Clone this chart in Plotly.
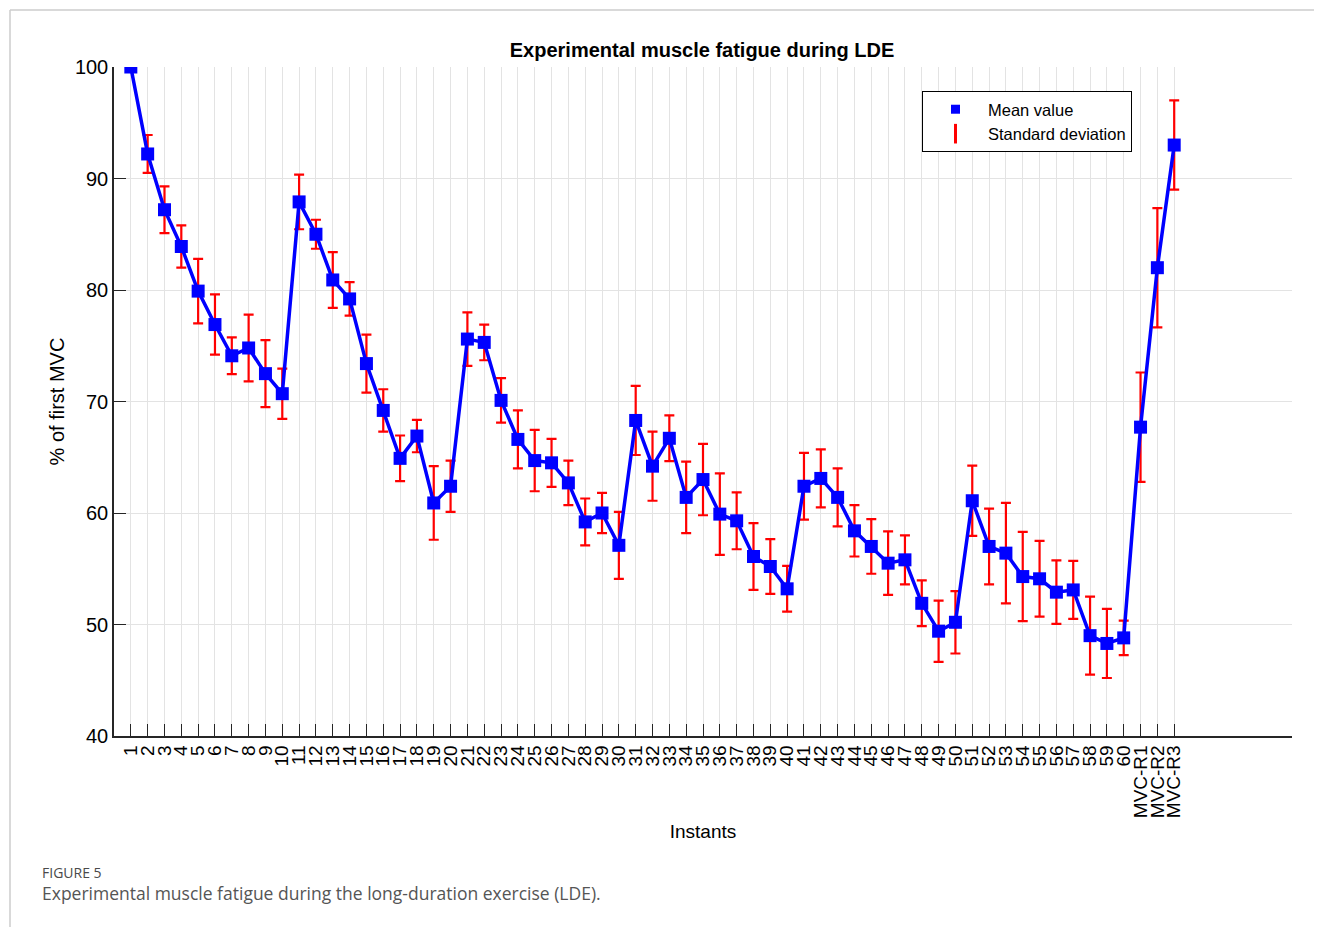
import plotly.graph_objects as go

instants = [str(i) for i in range(1, 61)] + ["MVC-R1", "MVC-R2", "MVC-R3"]

mean_values = [100, 92.2, 87.2, 83.9, 79.9, 76.9, 74.1, 74.8, 72.5, 70.7,
               87.9, 85.0, 80.9, 79.2, 73.4, 69.2, 64.9, 66.9, 60.9, 62.4,
               75.6, 75.3, 70.1, 66.6, 64.7, 64.5, 62.7, 59.2, 60.0, 57.1,
               68.3, 64.2, 66.7, 61.4, 63.0, 59.9, 59.3, 56.1, 55.2, 53.2,
               62.4, 63.1, 61.4, 58.4, 57.0, 55.5, 55.8, 51.9, 49.4, 50.2,
               61.1, 57.0, 56.4, 54.3, 54.1, 52.9, 53.1, 49.0, 48.3, 48.8,
               67.7, 82.0, 93.0]

std_dev = [0.0, 1.7, 2.1, 1.9, 2.9, 2.7, 1.65, 3.0, 3.0, 2.25,
           2.45, 1.3, 2.5, 1.5, 2.6, 1.9, 2.05, 1.45, 3.3, 2.3,
           2.4, 1.6, 2.0, 2.6, 2.75, 2.15, 2.0, 2.1, 1.8, 3.0,
           3.1, 3.1, 2.05, 3.2, 3.2, 3.65, 2.55, 3.0, 2.45, 2.05,
           3.0, 2.6, 2.6, 2.3, 2.45, 2.85, 2.2, 2.05, 2.75, 2.8,
           3.15, 3.4, 4.5, 4.0, 3.4, 2.85, 2.6, 3.5, 3.1, 1.55,
           4.9, 5.35, 4.0]

y_ticks = [40, 50, 60, 70, 80, 90, 100]

FONT = "Liberation Sans, Arial, sans-serif"
INK = "#262626"

fig = go.Figure()

fig.add_trace(go.Scatter(
    x=instants, y=mean_values,
    mode="lines+markers",
    line=dict(color="#0000ff", width=3.5),
    marker=dict(symbol="square", size=13, color="#0000ff"),
    error_y=dict(type="data", array=std_dev, visible=True,
                 color="#ff0000", thickness=2.2, width=5),
    showlegend=False,
))

# legend-only entries
fig.add_trace(go.Scatter(
    x=[None], y=[None], mode="markers", name="Mean value",
    marker=dict(symbol="square", size=9, color="#0000ff"),
))
fig.add_trace(go.Scatter(
    x=[None], y=[None], mode="markers", name="Standard deviation",
    marker=dict(symbol="line-ns-open", size=14, color="#ff0000",
                line=dict(color="#ff0000", width=3)),
))

# page body has an 8px margin; reference pixel coords are shifted by it
OFF = 8
W, H = 1322 - OFF, 927 - OFF
L, R, T, B = 114 - OFF, 1292 - OFF, 67 - OFF, 736 - OFF


def px(xp):
    return (xp - OFF - L) / (R - L)


def py(yp):
    return (B - (yp - OFF)) / (B - T)


fig.update_layout(
    width=W, height=H,
    margin=dict(l=L, r=W - R, t=T, b=H - B, pad=0),
    paper_bgcolor="white", plot_bgcolor="white",
    font=dict(family=FONT, color=INK, size=17),
    title=dict(text="<b>Experimental muscle fatigue during LDE</b>",
               x=px(702), xref="paper", xanchor="center",
               y=1 - (50 - OFF) / H, yanchor="middle",
               font=dict(family=FONT, size=20, color="#000000")),
    legend=dict(x=px(922), y=py(91), xanchor="left", yanchor="top",
                bgcolor="white", bordercolor="#000000", borderwidth=1,
                font=dict(family=FONT, size=16.5, color="#000000"),
                itemwidth=55, tracegroupgap=0),
    xaxis=dict(
        type="category",
        range=[-1, 69],
        tickmode="array", tickvals=instants, ticktext=instants,
        tickangle=-90,
        tickfont=dict(family=FONT, size=19, color="#000000"),
        showgrid=True, gridcolor="#e3e3e3", gridwidth=1,
        showline=True, linecolor=INK, linewidth=1.5,
        ticks="inside", ticklen=12, tickcolor=INK,
        zeroline=False,
        title=dict(text="Instants", font=dict(family=FONT, size=19, color="#000000"),
                   standoff=8),
    ),
    yaxis=dict(
        range=[40, 100],
        tickmode="array", tickvals=y_ticks,
        tickfont=dict(family=FONT, size=20, color="#000000"),
        showgrid=True, gridcolor="#e3e3e3", gridwidth=1,
        showline=True, linecolor=INK, linewidth=1.5,
        ticks="inside", ticklen=12, tickcolor=INK,
        zeroline=False,
        title=dict(text="% of first MVC", font=dict(family=FONT, size=20, color="#000000"),
                   standoff=5),
    ),
)

# page frame lines
fig.add_shape(type="line", xref="paper", yref="paper",
              x0=px(10), x1=px(1322), y0=py(10), y1=py(10),
              line=dict(color="#cccccc", width=1.5))
fig.add_shape(type="line", xref="paper", yref="paper",
              x0=px(10), x1=px(10), y0=py(10), y1=py(927),
              line=dict(color="#cccccc", width=1.5))

# caption
fig.add_annotation(text="FIGURE 5", xref="paper", yref="paper",
                   x=px(40), y=py(872), xanchor="left", yanchor="middle",
                   showarrow=False,
                   font=dict(family="Open Sans, sans-serif", size=14, color="#4a4a4a"))
fig.add_annotation(text="Experimental muscle fatigue during the long-duration exercise (LDE).",
                   xref="paper", yref="paper",
                   x=px(40), y=py(893), xanchor="left", yanchor="middle",
                   showarrow=False,
                   font=dict(family="Open Sans, sans-serif", size=17.5, color="#555555"))

fig.write_html("out.html")
